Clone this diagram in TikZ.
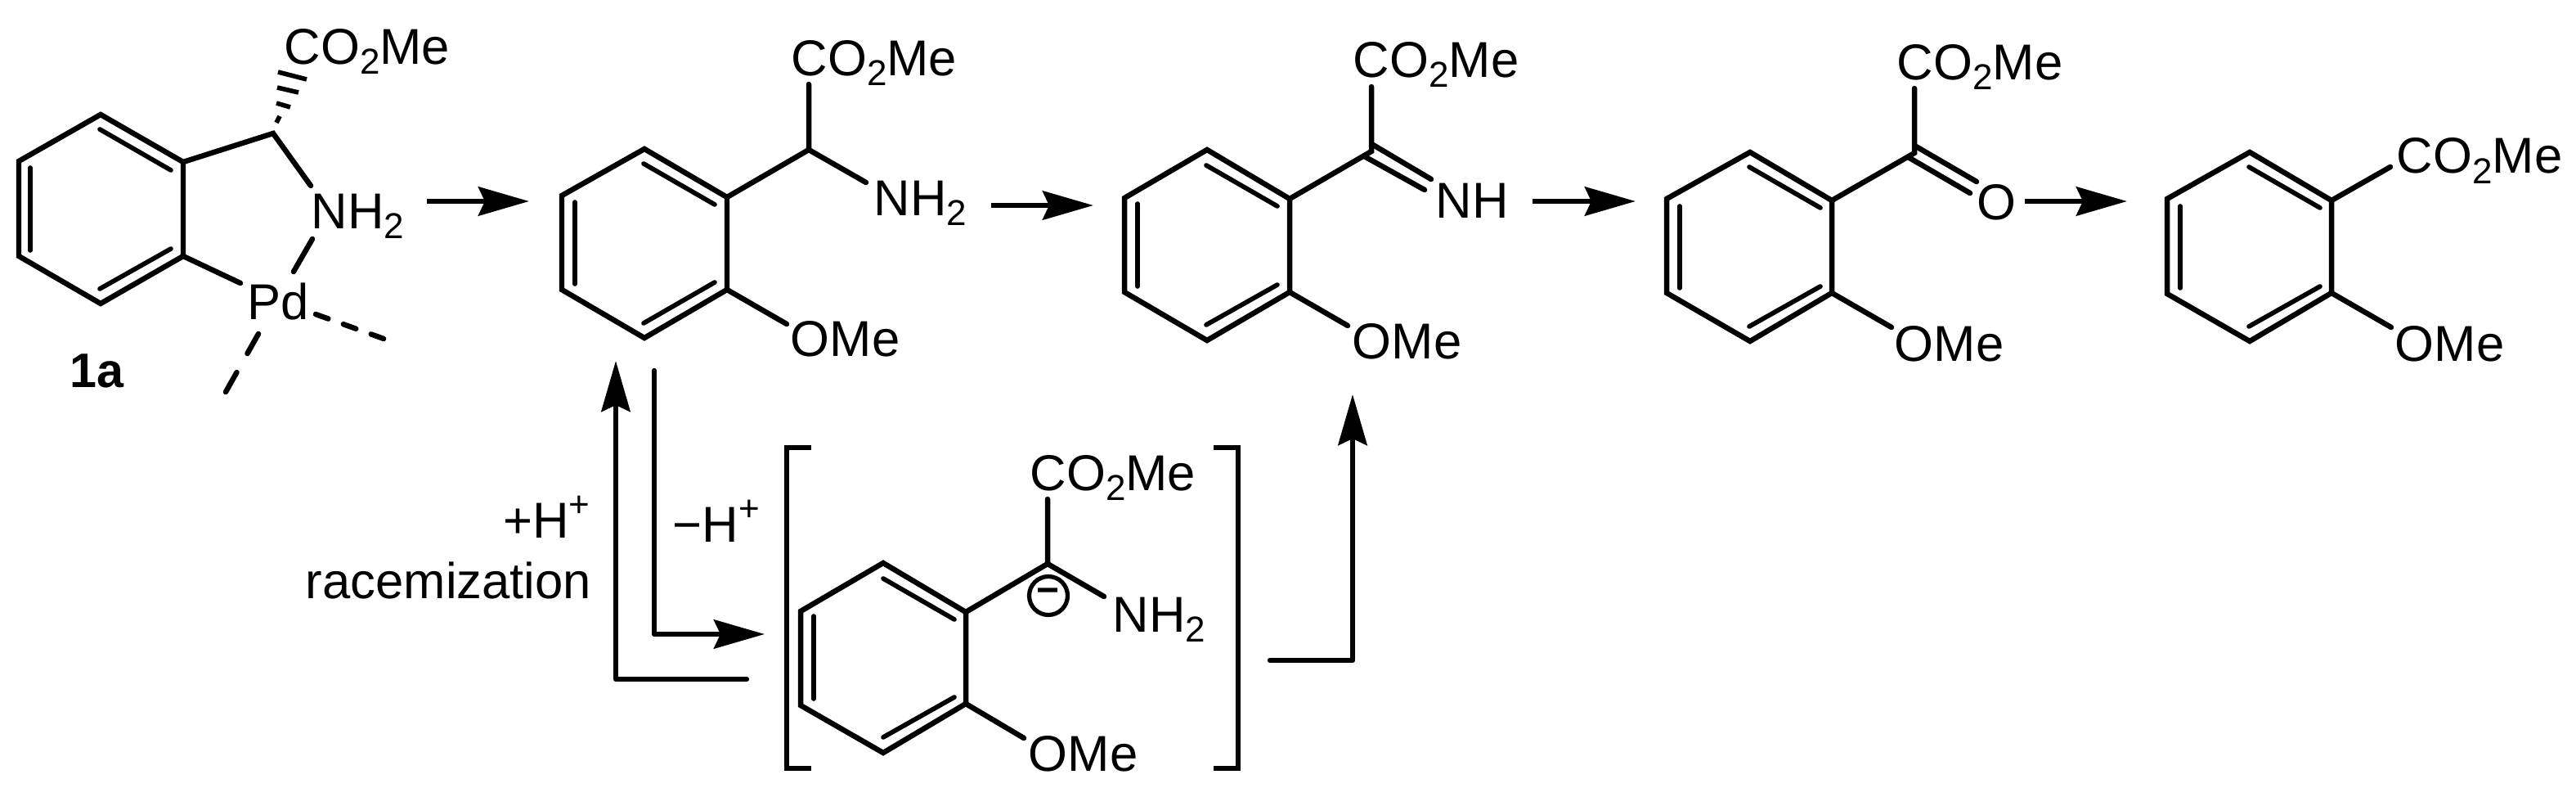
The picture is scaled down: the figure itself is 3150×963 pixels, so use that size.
\documentclass[tikz,border=0pt]{standalone}
\usepackage{fontspec}
\setmainfont{Liberation Sans}
\usetikzlibrary{arrows.meta}
\newcommand{\lowtwo}{\raisebox{-3pt}{\fontsize{11}{12}\selectfont 2}}
\newcommand{\upplus}{\raisebox{6.4pt}{\fontsize{11}{12}\selectfont +}}
\begin{document}
\begin{tikzpicture}[x=0.25pt,y=0.25pt,yscale=-1,xscale=1,
  bond/.style={line width=1.62pt,line cap=round},
  innerbond/.style={line width=1.42pt,line cap=round},
  hashbond/.style={line width=1.4pt},
  rxn/.style={line width=1.7pt,-{Stealth[length=15.5pt,width=8.8pt,inset=2pt]}},
  elbow/.style={line width=1.62pt,line cap=round,line join=round,-{Stealth[length=15.5pt,width=8.8pt,inset=2pt]}},
  brk/.style={line width=1.65pt},
  atomlabel/.style={anchor=base west,inner sep=0pt,font=\fontsize{15.4}{18}\selectfont},
  steptext/.style={anchor=base east,inner sep=0pt,font=\fontsize{15.4}{18}\selectfont}]
\useasboundingbox (0,0) rectangle (3150,963);

% Palladacycle 1a
\path (23,197) coordinate (a1) (123,140) coordinate (a2) (224,198) coordinate (a3) (224,313) coordinate (a4) (123,371) coordinate (a5) (23,313) coordinate (a6);
\path (334,163) coordinate (a7) (380,227) coordinate (a8) (382,292) coordinate (a9) (359,332) coordinate (a10) (294,346) coordinate (a11) (386,384) coordinate (a12) (472,415) coordinate (a13) (316,408) coordinate (a14) (276,479) coordinate (a15);
\draw [bond] (a1) -- (a2) -- (a3) -- (a4) -- (a5) -- (a6) -- cycle;
\draw [innerbond] (37,205) -- (37,306);
\draw [innerbond] (122,158) -- (209,208);
\draw [innerbond] (122,353) -- (209,304);
\draw [bond] (a3) -- (a7) -- (a8);
\draw [bond] (a9) -- (a10);
\draw [bond] (a4) -- (a11);
\draw [bond,dash pattern=on 4.1pt off 4.9pt] (a12) -- (a13);
\draw [bond,dash pattern=on 6.9pt off 6.6pt] (a14) -- (a15);
\draw [hashbond] (340,88) -- (375,97);
\draw [hashbond] (339,107) -- (365,113);
\draw [hashbond] (338,126) -- (355,131);
\draw [hashbond] (342,142) -- (338,150);
\draw (347,79) node [atomlabel] (estera) {CO\lowtwo Me};
\draw (380,280) node [atomlabel] (amina) {NH\lowtwo};
\draw (302,391) node [atomlabel] (pd) {Pd};
\draw (85,473) node [atomlabel,font=\fontsize{14.8}{18}\selectfont\bfseries] (cpda) {1a};

% Free amine
\path (687,239) coordinate (b1) (788,182) coordinate (b2) (889,241) coordinate (b3) (889,354) coordinate (b4) (788,413) coordinate (b5) (687,354) coordinate (b6);
\path (989,183) coordinate (b7) (989,103) coordinate (b8) (1059,223) coordinate (b9) (962,396) coordinate (b10);
\draw [bond] (b1) -- (b2) -- (b3) -- (b4) -- (b5) -- (b6) -- cycle;
\draw [innerbond] (703,247) -- (703,347);
\draw [innerbond] (787,200) -- (874,250);
\draw [innerbond] (787,395) -- (874,345);
\draw [bond] (b3) -- (b7) -- (b8);
\draw [bond] (b7) -- (b9);
\draw [bond] (b4) -- (b10);
\draw (967,93) node [atomlabel] (esterb) {CO\lowtwo Me};
\draw (1068,264) node [atomlabel] (aminb) {NH\lowtwo};
\draw (966,436) node [atomlabel] (omeb) {OMe};

% Imine
\path (1375,242) coordinate (c1) (1476,183) coordinate (c2) (1577,243) coordinate (c3) (1577,357) coordinate (c4) (1476,416) coordinate (c5) (1375,357) coordinate (c6);
\path (1677,185) coordinate (c7) (1677,106) coordinate (c8) (1648,398) coordinate (c9);
\draw [bond] (c1) -- (c2) -- (c3) -- (c4) -- (c5) -- (c6) -- cycle;
\draw [innerbond] (1391,249) -- (1391,350);
\draw [innerbond] (1475,202) -- (1562,252);
\draw [innerbond] (1475,397) -- (1562,348);
\draw [bond] (c3) -- (c7) -- (c8);
\draw [bond] (c4) -- (c9);
\draw [bond] (1679,177) -- (1750,219);
\draw [bond] (1670,192) -- (1742,232);
\draw (1654,95) node [atomlabel] (esterc) {CO\lowtwo Me};
\draw (1755,267) node [atomlabel] (nhc) {NH};
\draw (1653,439) node [atomlabel] (omec) {OMe};

% Ketone
\path (2038,243) coordinate (d1) (2140,186) coordinate (d2) (2240,245) coordinate (d3) (2240,358) coordinate (d4) (2140,417) coordinate (d5) (2038,358) coordinate (d6);
\path (2341,187) coordinate (d7) (2341,108) coordinate (d8) (2313,400) coordinate (d9);
\draw [bond] (d1) -- (d2) -- (d3) -- (d4) -- (d5) -- (d6) -- cycle;
\draw [innerbond] (2054,252) -- (2054,352);
\draw [innerbond] (2139,204) -- (2226,254);
\draw [innerbond] (2139,399) -- (2226,350);
\draw [bond] (d3) -- (d7) -- (d8);
\draw [bond] (d4) -- (d9);
\draw [bond] (2343,179) -- (2417,222);
\draw [bond] (2335,193) -- (2409,236);
\draw (2319,98) node [atomlabel] (esterd) {CO\lowtwo Me};
\draw (2417,268) node [atomlabel] (od) {O};
\draw (2316,441) node [atomlabel] (omed) {OMe};

% Benzoate
\path (2650,243) coordinate (e1) (2751,186) coordinate (e2) (2851,245) coordinate (e3) (2851,358) coordinate (e4) (2751,417) coordinate (e5) (2650,359) coordinate (e6);
\path (2923,204) coordinate (e7) (2924,400) coordinate (e8);
\draw [bond] (e1) -- (e2) -- (e3) -- (e4) -- (e5) -- (e6) -- cycle;
\draw [innerbond] (2666,252) -- (2666,352);
\draw [innerbond] (2750,204) -- (2837,254);
\draw [innerbond] (2750,399) -- (2837,350);
\draw [bond] (e3) -- (e7);
\draw [bond] (e4) -- (e8);
\draw (2930,212) node [atomlabel] (estere) {CO\lowtwo Me};
\draw (2928,441) node [atomlabel] (omee) {OMe};

% Carbanion in brackets
\path (979,747) coordinate (f1) (1080,688) coordinate (f2) (1181,748) coordinate (f3) (1181,860) coordinate (f4) (1080,920) coordinate (f5) (979,862) coordinate (f6);
\path (1281,689) coordinate (f7) (1281,610) coordinate (f8) (1350,729) coordinate (f9) (1252,902) coordinate (f10);
\draw [bond] (f1) -- (f2) -- (f3) -- (f4) -- (f5) -- (f6) -- cycle;
\draw [innerbond] (995,753) -- (995,854);
\draw [innerbond] (1080,707) -- (1167,757);
\draw [innerbond] (1080,901) -- (1167,852);
\draw [bond] (f3) -- (f7) -- (f8);
\draw [bond] (f7) -- (f9);
\draw [bond] (f4) -- (f10);
\draw (1259,599) node [atomlabel] (esterf) {CO\lowtwo Me};
\draw (1360,772) node [atomlabel] (aminf) {NH\lowtwo};
\draw (1257,942) node [atomlabel] (omef) {OMe};
\draw (1282,728) node [circle,draw,line width=1.3pt,minimum size=11.75pt,inner sep=0pt,font=\fontsize{12}{12}\selectfont\bfseries] (chargef) {−};
\draw [brk] (992,547) -- (962,547) -- (962,939) -- (992,939);
\draw [brk] (1484,547) -- (1514,547) -- (1514,939) -- (1484,939);

% Arrows
\path (522,246) coordinate (ar1s) (647,246) coordinate (ar1e) (1212,251) coordinate (ar2s) (1337,251) coordinate (ar2e);
\path (1874,246) coordinate (ar3s) (2000,246) coordinate (ar3e) (2476,246) coordinate (ar4s) (2601,246) coordinate (ar4e);
\path (913,830) coordinate (rac1) (753,830) coordinate (rac2) (753,441) coordinate (rac3);
\path (800,453) coordinate (dep1) (800,775) coordinate (dep2) (935,775) coordinate (dep3);
\path (1553,807) coordinate (ox1) (1654,807) coordinate (ox2) (1654,482) coordinate (ox3);
\draw [rxn] (ar1s) -- (ar1e);
\draw [rxn] (ar2s) -- (ar2e);
\draw [rxn] (ar3s) -- (ar3e);
\draw [rxn] (ar4s) -- (ar4e);
\draw [elbow] (rac1) -- (rac2) -- (rac3);
\draw [elbow] (dep1) -- (dep2) -- (dep3);
\draw [elbow] (ox1) -- (ox2) -- (ox3);

% Text Node
\draw (722,657) node [steptext] (proton) {+H\upplus};
\draw (724,731) node [steptext] (racem) {racemization};
\draw (822,662) node [atomlabel] (deproton) {−H\upplus};
\end{tikzpicture}
\end{document}
